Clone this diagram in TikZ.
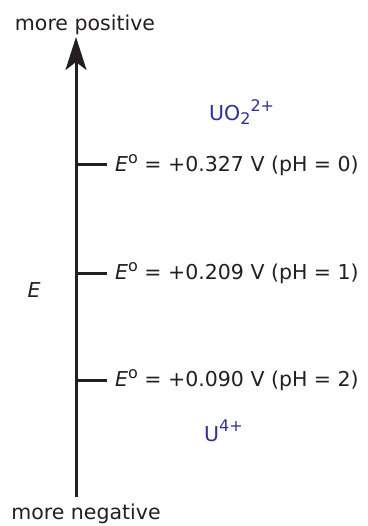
\documentclass[tikz,border=0pt]{standalone}
\usepackage{fontspec}
\setmainfont{DejaVu Sans}
\usetikzlibrary{arrows.meta}

\definecolor{inkgray}{RGB}{35,31,32}
\definecolor{ionblue}{RGB}{46,49,146}

% Hoch- und Tiefstellung (etwas groesser als \textsuperscript)
\newcommand{\upidx}[1]{\raisebox{9.5pt}{\fontsize{16}{16}\selectfont #1}}
\newcommand{\lowidx}[1]{\raisebox{-4pt}{\fontsize{16}{16}\selectfont #1}}
\newcommand{\stdpot}{\textit{E}\raisebox{7.5pt}{\fontsize{16}{16}\selectfont o}}

\tikzset{
    axisline/.style={line width=3pt, draw=inkgray},
    tickline/.style={line width=3pt, draw=inkgray},
    potlabel/.style={anchor=west, inner xsep=8pt, inner ysep=0pt, text=inkgray, font=\fontsize{20.5}{23}\selectfont},
    endlabel/.style={text=inkgray, inner sep=0pt, font=\fontsize{20.5}{23}\selectfont},
    species/.style={anchor=base west, inner sep=0pt, text=ionblue, font=\fontsize{20.5}{23}\selectfont}
}

\begin{document}
\begin{tikzpicture}[x=1pt, y=-1pt]
    \useasboundingbox (0,0) rectangle (367,526);

    % Achse
    \coordinate (bottom) at (76,497);
    \coordinate (top) at (76,37);
    \draw[axisline, -{Stealth[length=33pt, width=21pt, inset=8pt]}] (bottom) -- (top);

    % Beschriftung der Enden
    \node[endlabel] (pos) at (85,25) {more positive};
    \node[endlabel] (neg) at (86,514) {more negative};
    \node[endlabel, font=\fontsize{20.5}{23}\selectfont\itshape] (E) at (34,290) {E};

    % Standardpotentiale
    \coordinate (t0) at (76,165);
    \coordinate (t1) at (76,273);
    \coordinate (t2) at (76,380);
    \node[potlabel] (e0) at (107,165) {\stdpot{} = +0.327 V (pH = 0)};
    \node[potlabel] (e1) at (107,273) {\stdpot{} = +0.209 V (pH = 1)};
    \node[potlabel] (e2) at (107,380) {\stdpot{} = +0.090 V (pH = 2)};
    \draw[tickline] (t0) -- (e0.west);
    \draw[tickline] (t1) -- (e1.west);
    \draw[tickline] (t2) -- (e2.west);

    % Spezies
    \node[species] (uo) at (209,121) {UO\lowidx{2}\upidx{2+}};
    \node[species] (u) at (204,441) {U\upidx{4+}};
\end{tikzpicture}
\end{document}
